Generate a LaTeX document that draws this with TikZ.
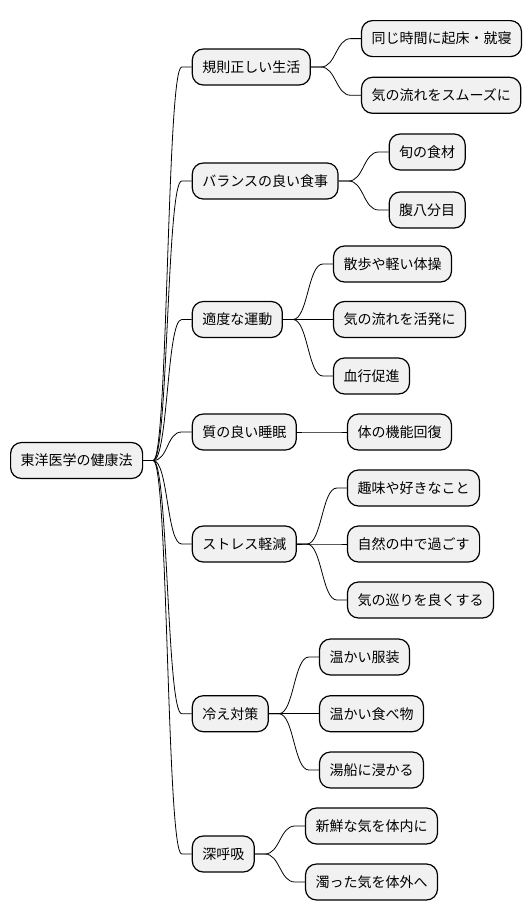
\documentclass[tikz,border=0pt]{standalone}
\usepackage{fontspec}
\setmainfont{Noto Sans CJK JP}
\usetikzlibrary{calc}
\definecolor{boxfill}{HTML}{F1F1F1}
\tikzset{
  mmbox/.style={draw=black, line width=1.2pt, fill=boxfill, rounded corners=11pt,
    minimum height=36pt, inner xsep=10pt, inner ysep=0pt, anchor=west,
    font=\fontsize{14pt}{16pt}\selectfont},
  mmconn/.style={draw=black, line width=0.8pt}
}
\newcommand{\mmlink}[2]{\draw[mmconn] (#1.east) -- ([xshift=10pt]#1.east) .. controls ([xshift=25pt]#1.east) and ([xshift=-25pt]#2.west) .. ([xshift=-10pt]#2.west) -- (#2.west);}
\begin{document}
\begin{tikzpicture}[x=1pt,y=-1pt]
\useasboundingbox (0,0) rectangle (530,921);
\node[mmbox] (root) at (10,460.5) {東洋医学の健康法};
% level 1
\node[mmbox] (a) at (191.7,67) {規則正しい生活};
\node[mmbox] (b) at (191.7,181) {バランスの良い食事};
\node[mmbox] (c) at (191.7,319.5) {適度な運動};
\node[mmbox] (d) at (191.7,432) {質の良い睡眠};
\node[mmbox] (e) at (191.7,544) {ストレス軽減};
\node[mmbox] (f) at (191.7,713.7) {冷え対策};
\node[mmbox] (g) at (191.7,854) {深呼吸};
% level 2
\node[mmbox] (a1) at ($(a.east)+(50,-28.4)$) {同じ時間に起床・就寝};
\node[mmbox] (a2) at ($(a.east)+(50,28.3)$) {気の流れをスムーズに};
\node[mmbox] (b1) at ($(b.east)+(50,-29)$) {旬の食材};
\node[mmbox] (b2) at ($(b.east)+(50,29)$) {腹八分目};
\node[mmbox] (c1) at ($(c.east)+(50,-55.5)$) {散歩や軽い体操};
\node[mmbox] (c2) at ($(c.east)+(50,0)$) {気の流れを活発に};
\node[mmbox] (c3) at ($(c.east)+(50,56.5)$) {血行促進};
\node[mmbox] (d1) at ($(d.east)+(50,0)$) {体の機能回復};
\node[mmbox] (e1) at ($(e.east)+(50,-56)$) {趣味や好きなこと};
\node[mmbox] (e2) at ($(e.east)+(50,0)$) {自然の中で過ごす};
\node[mmbox] (e3) at ($(e.east)+(50,56)$) {気の巡りを良くする};
\node[mmbox] (f1) at ($(f.east)+(50,-56.7)$) {温かい服装};
\node[mmbox] (f2) at ($(f.east)+(50,0)$) {温かい食べ物};
\node[mmbox] (f3) at ($(f.east)+(50,56.3)$) {湯船に浸かる};
\node[mmbox] (g1) at ($(g.east)+(50,-28)$) {新鮮な気を体内に};
\node[mmbox] (g2) at ($(g.east)+(50,28)$) {濁った気を体外へ};
% connectors
\mmlink{root}{a}\mmlink{root}{b}\mmlink{root}{c}\mmlink{root}{d}
\mmlink{root}{e}\mmlink{root}{f}\mmlink{root}{g}
\mmlink{a}{a1}\mmlink{a}{a2}
\mmlink{b}{b1}\mmlink{b}{b2}
\mmlink{c}{c1}\mmlink{c}{c2}\mmlink{c}{c3}
\mmlink{d}{d1}
\mmlink{e}{e1}\mmlink{e}{e2}\mmlink{e}{e3}
\mmlink{f}{f1}\mmlink{f}{f2}\mmlink{f}{f3}
\mmlink{g}{g1}\mmlink{g}{g2}
\end{tikzpicture}
\end{document}
